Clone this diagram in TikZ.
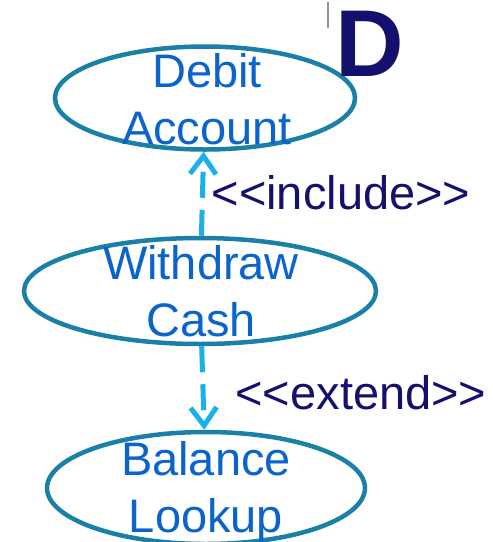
\documentclass[tikz,border=0pt]{standalone}
\usepackage{fontspec}
\setmainfont{Liberation Sans}
\usetikzlibrary{shapes.geometric, arrows.meta, positioning}

\definecolor{ucline}{HTML}{1A80A8}
\definecolor{uctext}{HTML}{0A64CC}
\definecolor{navy}{HTML}{14106E}
\definecolor{deparrow}{HTML}{1AB0EA}
\definecolor{markline}{HTML}{A08C96}

\begin{document}
\begin{tikzpicture}[x=1pt,y=-1pt,
    usecase/.style={draw=ucline, line width=4.5pt, ellipse, inner sep=0pt},
    uclabel/.style={text=uctext, align=center, inner sep=0pt,
        font=\fontsize{47}{57}\selectfont},
    stereo/.style={text=navy, inner sep=0pt, font=\fontsize{47}{57}\selectfont},
    dep/.style={draw=deparrow, line width=5pt, dash pattern=on 26pt off 12pt,
        -{Straight Barb[length=18pt,width=26pt]}}]

\useasboundingbox (0,0) rectangle (493,542);

% use cases
\node[usecase, minimum width=300pt, minimum height=103pt] (debit) at (205,98) {};
\node[uclabel] (debittext) at (207,99) {Debit\\Account};

\node[usecase, minimum width=352pt, minimum height=106pt] (withdraw) at (200,291) {};
\node[uclabel] (withdrawtext) at (201,291) {Withdraw\\Cash};

\node[usecase, minimum width=318pt, minimum height=112pt] (balance) at (206,488) {};
\node[uclabel] (balancetext) at (206,492) {Balance\\Lookup};

% dependencies
\draw[dep] (withdraw) -- (debit);
\draw[dep] (withdraw) -- (balance);

\node[stereo] (incl) at (341,193) {{<}{<}include{>}{>}};
\node[stereo] (ext) at (361,393) {{<}{<}extend{>}{>}};

% corner letter
\node[text=navy, inner sep=0pt, font=\fontsize{95}{95}\selectfont\bfseries] (letter) at (370,44) {D};
\draw[draw=markline, line width=2.5pt] (328,2) -- (328,28);

\end{tikzpicture}
\end{document}
